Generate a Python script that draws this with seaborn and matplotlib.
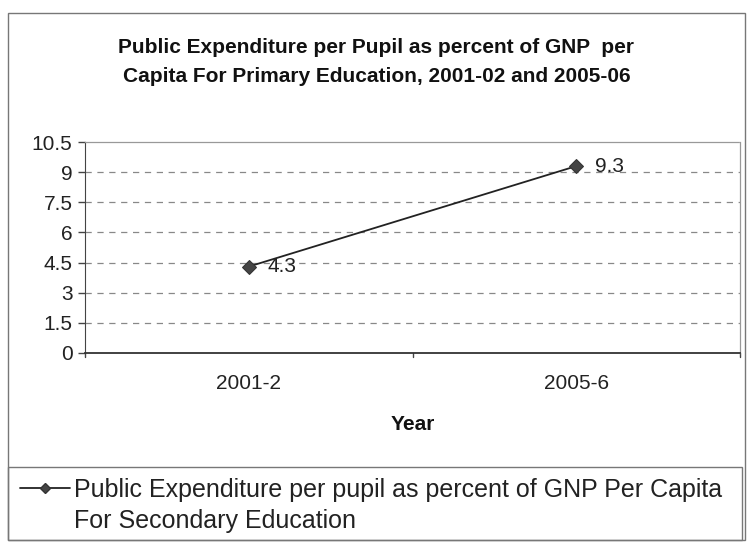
import matplotlib
matplotlib.use("Agg")
import matplotlib.pyplot as plt
import matplotlib.patches as mpatches
from matplotlib.lines import Line2D
import seaborn as sns
import pandas as pd

years = ["2001-2", "2005-6"]
values = [4.3, 9.3]
yticks = [0, 1.5, 3, 4.5, 6, 7.5, 9, 10.5]
title = "Public Expenditure per Pupil as percent of GNP  per\nCapita For Primary Education, 2001-02 and 2005-06"
series_lines = ["Public Expenditure per pupil as percent of GNP Per Capita",
                "For Secondary Education"]

sns.set_style("white")
plt.rcParams["font.family"] = ["Liberation Sans", "DejaVu Sans"]

df = pd.DataFrame({"Year": years, "Value": values})

W, H = 753, 543
FS = 15
fig = plt.figure(figsize=(W / 100, H / 100), dpi=100)
ax = fig.add_axes([85 / W, 1 - 353 / H, (740 - 85) / W, (353 - 142) / H])

# outer chart frame
fig.patches.append(mpatches.Rectangle((8 / W, 3 / H), (745 - 8) / W, (530 - 3) / H,
                                      transform=fig.transFigure, fill=False,
                                      edgecolor="#777777", linewidth=1.0))

sns.lineplot(data=df, x="Year", y="Value", ax=ax, color="#222222", linewidth=1.3,
             marker="D", markersize=7, markerfacecolor="#444444",
             markeredgecolor="#333333", sort=False)

ax.set_xlim(-0.5, 1.5)
ax.set_ylim(0, 10.5)
ax.set_yticks(yticks)
ax.set_yticklabels([f"{t:g}" for t in yticks], fontsize=FS, color="#222222")
ax.set_xticks(range(len(years)))
ax.set_xticklabels(years, fontsize=FS, color="#222222")
ax.tick_params(axis="x", length=0, pad=15)
ax.tick_params(axis="y", length=5, width=1, color="#444444", pad=4, left=True)

for t in yticks[1:-1]:
    ax.axhline(t, color="#888888", linewidth=0.9, dashes=(5, 4.5), zorder=0)

for s in ["top", "right"]:
    ax.spines[s].set_color("#999999")
    ax.spines[s].set_linestyle((0, (1, 1)))
    ax.spines[s].set_linewidth(0.9)
ax.spines["left"].set_color("#444444")
ax.spines["bottom"].set_color("#333333")
ax.spines["bottom"].set_linewidth(1.3)

# category boundary ticks below the axis
for xb in [-0.5, 0.5, 1.5]:
    ax.plot([xb, xb], [0, -0.18], color="#444444", linewidth=1, clip_on=False,
            transform=ax.transData)

for x, v in zip(range(len(years)), values):
    ax.annotate(f"{v:g}", (x, v), xytext=(13.5, 0), textcoords="offset points",
                fontsize=FS, color="#222222", va="center", ha="left")

ax.set_xlabel("Year", fontsize=FS, fontweight="bold", labelpad=16, color="#111111")
ax.set_ylabel("")

fig.text(0.5, 1 - 62 / H, title, ha="center", va="center", fontsize=15,
         fontweight="bold", linespacing=1.65, color="#111111")

# legend box: frame, marker sample and wrapped series name
fig.patches.append(mpatches.Rectangle((8 / W, 3 / H), (742 - 8) / W, (540 - 467) / H,
                                      transform=fig.transFigure, fill=False,
                                      edgecolor="#777777", linewidth=1.0))
handle = Line2D([], [], color="#222222", linewidth=1.3, marker="D", markersize=5,
                markerfacecolor="#444444", markeredgecolor="#333333")
leg = fig.legend([handle], [series_lines[0]], loc="center left",
                 bbox_to_anchor=(20 / W, 1 - 490 / H), fontsize=18, frameon=False,
                 handlelength=2.0, handletextpad=0.15, borderpad=0, borderaxespad=0)
for t in leg.get_texts():
    t.set_color("#222222")

fig.canvas.draw()
x0 = leg.get_texts()[0].get_window_extent().x0 / W
fig.text(x0, 1 - 521 / H, series_lines[1], fontsize=18, va="center",
         ha="left", color="#222222")

fig.savefig("out.png", dpi=100, facecolor="white")
